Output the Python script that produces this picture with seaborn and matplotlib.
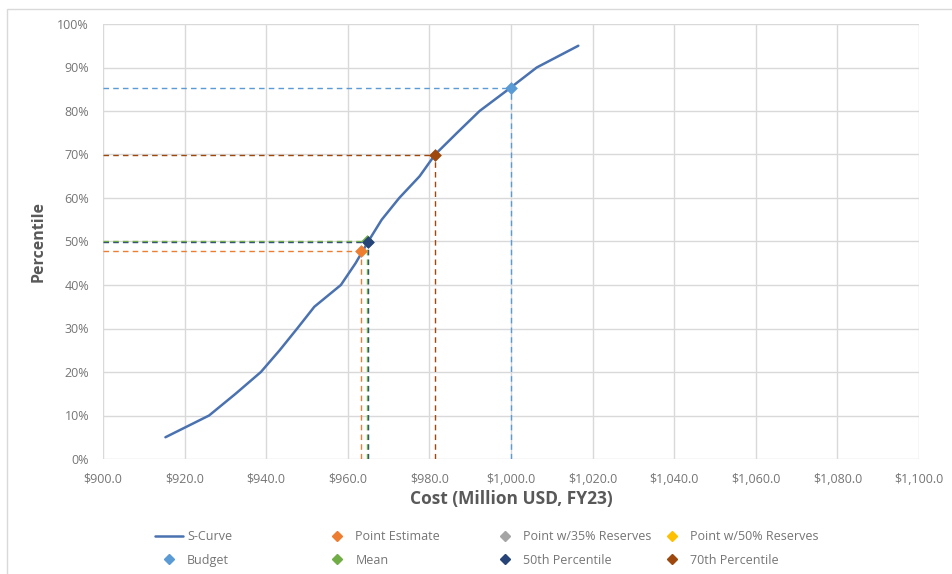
import matplotlib
matplotlib.use("Agg")
import matplotlib.pyplot as plt
from matplotlib.lines import Line2D
from matplotlib.patches import Rectangle
from matplotlib.ticker import FuncFormatter, MultipleLocator
import seaborn as sns
import pandas as pd

# S-curve: cost (million USD, FY23) at each percentile
curve_cost = [915.3, 926.0, 932.5, 938.7, 943.3, 947.6, 951.8, 958.3, 961.9,
              965.0, 968.3, 972.6, 977.6, 981.4, 986.8, 992.3, 999.4, 1006.3, 1016.5]
curve_pct = [0.05, 0.10, 0.15, 0.20, 0.25, 0.30, 0.35, 0.40, 0.45,
             0.50, 0.55, 0.60, 0.65, 0.70, 0.75, 0.80, 0.85, 0.90, 0.95]

# Highlighted points (name, cost, percentile, colour)
point_names = ["Point Estimate", "Point w/35% Reserves", "Point w/50% Reserves",
               "Budget", "Mean", "50th Percentile", "70th Percentile"]
point_cost = [963.2, None, None, 1000.0, 964.6, 965.0, 981.4]
point_pct = [0.478, None, None, 0.854, 0.502, 0.500, 0.700]
point_colors = ["#ED7D31", "#A5A5A5", "#FFC000", "#5B9BD5", "#70AD47", "#264478", "#9E480E"]
# drawing order of guide lines (Mean above the 50th Percentile lines)
guide_z = [2.2, 2.0, 2.0, 2.0, 2.3, 2.1, 2.0]
# drawing order of markers (50th Percentile above Mean)
marker_z = [4.0, 4.0, 4.0, 4.0, 4.0, 4.2, 4.0]

curve_color = "#4A72B0"
tick_color = "#757575"
label_color = "#595959"
grid_color = "#D9D9D9"

sns.set_theme(style="white")
plt.rcParams["font.family"] = ["Open Sans", "DejaVu Sans"]

fig = plt.figure(figsize=(9.52, 5.74), dpi=100)
fig.patches.append(Rectangle((7 / 952, -0.1), 1.1, 1 - 9 / 574 + 0.1,
                             transform=fig.transFigure, fill=False,
                             edgecolor="#D9D9D9", linewidth=1.0))
ax = fig.add_axes([103 / 952, 1 - 459 / 574, (919 - 103) / 952, (459 - 24) / 574])

ax.set_xlim(900, 1100)
ax.set_ylim(0, 1.0)
ax.xaxis.set_major_locator(MultipleLocator(20))
ax.yaxis.set_major_locator(MultipleLocator(0.1))
ax.xaxis.set_major_formatter(FuncFormatter(lambda v, p: f"${v:,.1f}"))
ax.yaxis.set_major_formatter(FuncFormatter(lambda v, p: f"{v * 100:.0f}%"))
ax.grid(True, color=grid_color, linewidth=1.0)
ax.set_axisbelow(True)
for s in ax.spines.values():
    s.set_visible(False)
ax.tick_params(axis="both", length=0, labelsize=9, labelcolor=tick_color)
ax.tick_params(axis="x", pad=10)
ax.tick_params(axis="y", pad=10)

# Guide lines from each highlighted point to the axes
for c, p, col, z in zip(point_cost, point_pct, point_colors, guide_z):
    if c is None:
        continue
    ax.plot([900, c], [p, p], color=col, linestyle=(0, (4, 3)), linewidth=1.0, zorder=z)
    ax.plot([c, c], [0, p], color=col, linestyle=(0, (4, 3)), linewidth=1.0, zorder=z)

curve_df = pd.DataFrame({"cost": curve_cost, "pct": curve_pct})
sns.lineplot(data=curve_df, x="cost", y="pct", color=curve_color, linewidth=1.8,
             ax=ax, zorder=3)

pts = pd.DataFrame({"name": point_names, "cost": point_cost, "pct": point_pct,
                    "color": point_colors, "z": marker_z}).dropna()
for _, r in pts.iterrows():
    sns.scatterplot(x=[r["cost"]], y=[r["pct"]], marker="D", s=36, color=r["color"],
                    edgecolor=r["color"], ax=ax, zorder=r["z"])

ax.set_xlabel("Cost (Million USD, FY23)", fontsize=12.5, fontweight="bold",
              color=label_color, labelpad=3)
ax.set_ylabel("Percentile", fontsize=11.5, fontweight="bold", color=label_color, labelpad=8)

# Legend: four columns of two entries each, placed on a fixed grid
curve_handle = Line2D([], [], color=curve_color, linewidth=1.8)
marker_handles = [Line2D([], [], marker="D", linestyle="none", markersize=5,
                         color=col) for col in point_colors]
handles_all = [curve_handle] + marker_handles
labels_all = ["S-Curve"] + point_names
columns = [(0, 4), (1, 5), (2, 6), (3, 7)]
col_x = [155, 323.5, 491.5, 658.5]
for (i, j), x0 in zip(columns, col_x):
    leg = fig.legend([handles_all[i], handles_all[j]], [labels_all[i], labels_all[j]],
                     loc="upper left", bbox_to_anchor=(x0 / 952, 1 - 530 / 574),
                     frameon=False, fontsize=9, labelcolor=tick_color,
                     handlelength=2.2, handletextpad=0.35, labelspacing=0.85,
                     borderpad=0, borderaxespad=0)

fig.savefig("out.png", dpi=100)
